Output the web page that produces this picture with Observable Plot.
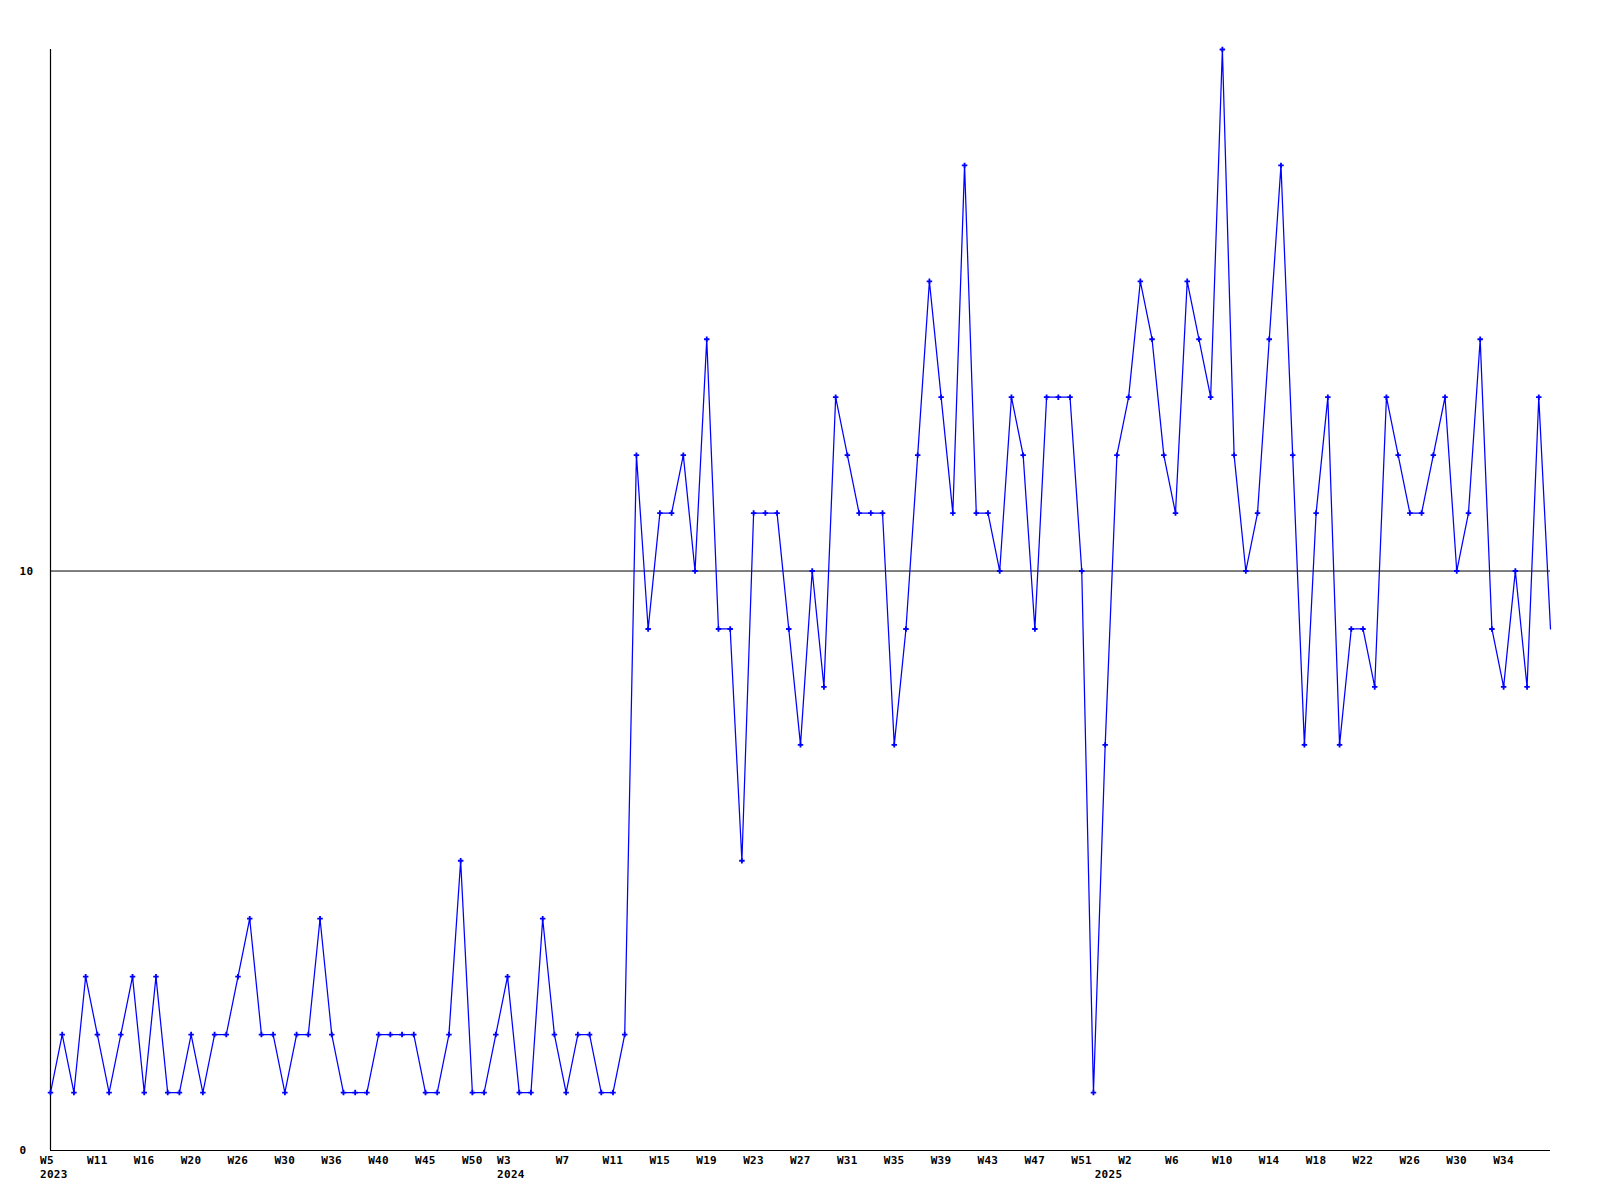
<!DOCTYPE html>
<html>
<head>
<meta charset="utf-8">
<script src="https://cdn.jsdelivr.net/npm/d3@7"></script>
<script src="https://cdn.jsdelivr.net/npm/@observablehq/plot@0.6"></script>
<style>
  html, body { margin: 0; padding: 0; background: #ffffff; }
  #chart svg { display: block; }
</style>
</head>
<body>
<div id="chart"></div>
<script>
// Weekly counts, one value per point (consecutive categories)
const values = [
  1,2,1,3,2,1,2,3,1,3,
  1,1,2,1,2,2,3,4,2,2,
  1,2,2,4,2,1,1,1,2,2,
  2,2,1,1,2,5,1,1,2,3,
  1,1,4,2,1,2,2,1,1,2,
  12,9,11,11,12,10,14,9,9,5,
  11,11,11,9,7,10,8,13,12,11,
  11,11,7,9,12,15,13,11,17,11,
  11,10,13,12,9,13,13,13,10,1,
  7,12,13,15,14,12,11,15,14,13,
  19,12,10,11,14,17,12,7,11,13,
  7,9,9,8,13,12,11,11,12,13,
  10,11,14,9,8,10,8,13,9
];

// Week tick labels and the point index each one sits at
const weekLabels = ["W5","W11","W16","W20","W26","W30","W36","W40","W45","W50",
  "W3","W7","W11","W15","W19","W23","W27","W31","W35","W39","W43","W47","W51",
  "W2","W6","W10","W14","W18","W22","W26","W30","W34"];
const weekTickIndex = [0,4,8,12,16,20,24,28,32,36,
  39,44,48,52,56,60,64,68,72,76,80,84,88,
  92,96,100,104,108,112,116,120,124];

// Year labels and the point index they sit under
const years = ["2023","2024","2025"];
const yearIndex = [0, 39, 90];

// Y-axis labels
const yTicks = [0, 10];
const refLine = 10;

const data = values.map((v, i) => ({i, v}));
const markerData = data.slice(0, data.length - 1); // last point has no marker
const weekTicks = weekLabels.map((label, k) => ({label, i: weekTickIndex[k]}));
const yearData = years.map((label, k) => ({label, i: yearIndex[k]}));

const font = "'DejaVu Sans Mono', 'Liberation Mono', monospace";
const textStyle = {fontSize: 11, fontWeight: "bold", fill: "#000", textAnchor: "start"};

const chart = Plot.plot({
  width: 1600,
  height: 1200,
  marginLeft: 50,
  marginRight: 50,
  marginTop: 49,
  marginBottom: 50,
  style: {fontFamily: font, fontSize: "11px", fontWeight: "bold", background: "#ffffff", color: "#000", letterSpacing: "0.3px"},
  x: {type: "linear", domain: [0, values.length - 1], axis: null},
  y: {domain: [0, 19], axis: null},
  marks: [
    Plot.ruleY([refLine], {stroke: "#000", strokeWidth: 1}),
    Plot.ruleY([0], {stroke: "#000", strokeWidth: 1.2}),
    Plot.ruleX([0], {y1: 0, y2: 19, stroke: "#000", strokeWidth: 1.2}),
    Plot.line(data, {x: "i", y: "v", stroke: "#0000ff", strokeWidth: 1.25}),
    Plot.dot(markerData, {x: "i", y: "v", symbol: "cross", r: 2.3, fill: "#0000ff", stroke: null}),
    Plot.text(weekTicks, {x: "i", text: "label", frameAnchor: "bottom", dy: 13, dx: -10.5, ...textStyle}),
    Plot.text(yearData, {x: "i", text: "label", frameAnchor: "bottom", dy: 27, dx: -10.5, ...textStyle}),
    Plot.text(yTicks, {y: d => d, text: d => String(d), frameAnchor: "left", dx: -31, ...textStyle})
  ]
});

document.getElementById("chart").appendChild(chart);
</script>
</body>
</html>
